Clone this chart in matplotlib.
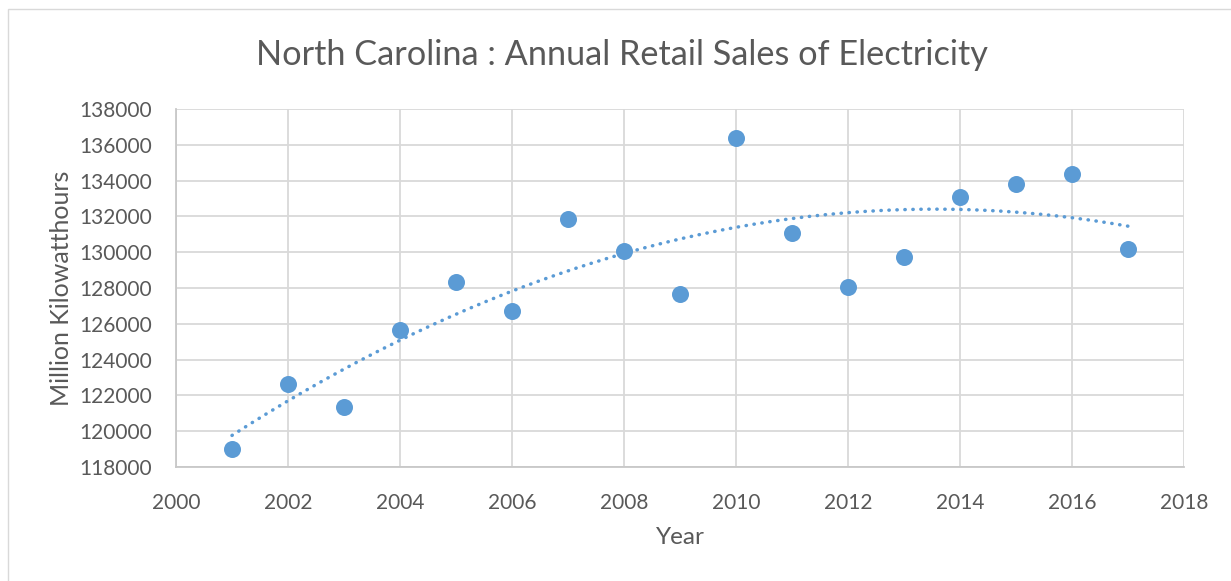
import numpy as np
import matplotlib
matplotlib.use('Agg')
import matplotlib.pyplot as plt
import matplotlib.patches as mpatches

years = [2001, 2002, 2003, 2004, 2005, 2006, 2007, 2008, 2009,
         2010, 2011, 2012, 2013, 2014, 2015, 2016, 2017]
sales = [119000, 122660, 121340, 125630, 128310, 126690, 131870, 130050, 127640,
         136370, 131050, 128045, 129755, 133100, 133800, 134380, 130180]

x_ticks = list(range(2000, 2019, 2))
y_ticks = list(range(118000, 138001, 2000))

title = 'North Carolina : Annual Retail Sales of Electricity'
x_label = 'Year'
y_label = 'Million Kilowatthours'

blue = '#5B9BD5'
grid_col = '#D9D9D9'
text_col = '#595959'

plt.rcParams['font.family'] = ['Lato', 'DejaVu Sans']

fig = plt.figure(figsize=(12.31, 5.81), dpi=100)
ax = fig.add_axes([176/1231, 1 - 467/581, (1184 - 176)/1231, (467 - 109)/581])

# chart area border
fig.patches.append(mpatches.Rectangle((8/1231, -0.05), 1.2, 1 - 9/581 + 0.05,
                                      transform=fig.transFigure, fill=False,
                                      edgecolor='#D9D9D9', linewidth=1.0))

# second order polynomial trendline
coef = np.polyfit(years, sales, 2)
xt = np.linspace(years[0], years[-1], 200)
ax.plot(xt, np.polyval(coef, xt), color=blue, linewidth=2.5,
        linestyle=(0, (0.1, 2.2)), dash_capstyle='round', zorder=2)

ax.scatter(years, sales, s=150, color=blue, zorder=3, linewidths=0)

ax.set_xlim(2000, 2018)
ax.set_ylim(118000, 138000)
ax.set_xticks(x_ticks)
ax.set_yticks(y_ticks)
ax.set_xticklabels([str(v) for v in x_ticks])
ax.set_yticklabels([str(v) for v in y_ticks])
ax.tick_params(length=0, labelsize=15, colors=text_col)
ax.tick_params(axis='y', pad=17)
ax.tick_params(axis='x', pad=19)

ax.grid(True, color=grid_col, linewidth=1.3)
ax.set_axisbelow(True)
for side in ['top', 'right']:
    ax.spines[side].set_visible(False)
for side in ['left', 'bottom']:
    ax.spines[side].set_color('#C8C8C8')
    ax.spines[side].set_linewidth(1.3)

ax.set_xlabel(x_label, fontsize=17.5, color=text_col, labelpad=10)
ax.set_ylabel(y_label, fontsize=18, color=text_col, labelpad=5)
fig.text(622/1231, 1 - 55/581, title, fontsize=24.7, color=text_col,
         ha='center', va='center')

fig.savefig('out.png', dpi=100)
